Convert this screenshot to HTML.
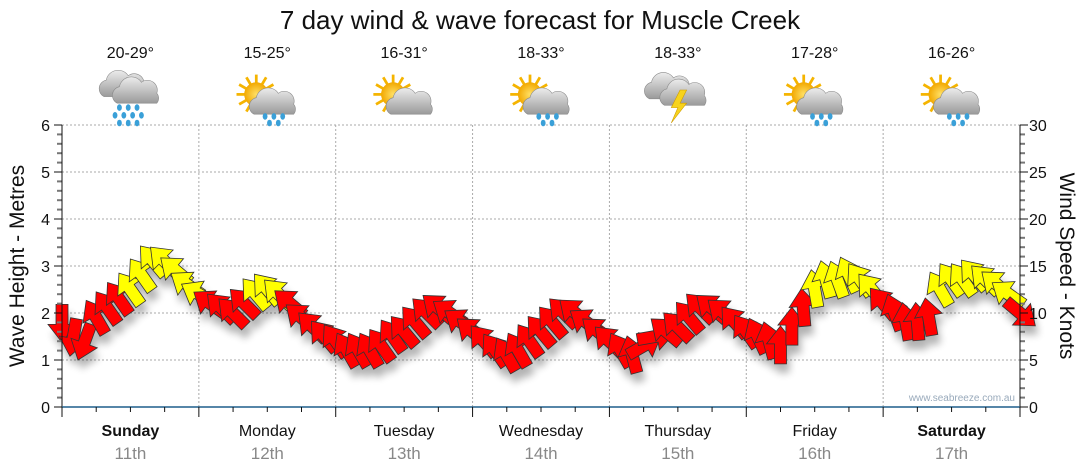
<!DOCTYPE html>
<html><head><meta charset="utf-8"><style>
body{margin:0;background:#fff;width:1080px;height:475px;overflow:hidden;font-family:"Liberation Sans","DejaVu Sans",sans-serif}
svg{display:block}
</style></head><body>
<svg id="chart" width="1080" height="475">
<defs>
<filter id="sh" x="-50%" y="-50%" width="200%" height="200%"><feGaussianBlur stdDeviation="4"/></filter>
<radialGradient id="sun" cx="50%" cy="50%" r="50%"><stop offset="0" stop-color="#ffe066"/><stop offset="1" stop-color="#f2a800"/></radialGradient>
<linearGradient id="cloud" x1="0" y1="0" x2="0" y2="1"><stop offset="0" stop-color="#ececec"/><stop offset="1" stop-color="#9a9a9a"/></linearGradient>
</defs>
<text x="540" y="29" text-anchor="middle" font-size="26" fill="#111">7 day wind &amp; wave forecast for Muscle Creek</text>
<g id="grid"></g>
<g id="icons"></g>
<g id="shadows" filter="url(#sh)" opacity="0.3"></g>
<g id="arrows"></g>
<g id="axes"></g>
<text x="24" y="266" transform="rotate(-90 24 266)" text-anchor="middle" font-size="21" fill="#111">Wave Height - Metres</text>
<text x="1060" y="266" transform="rotate(90 1060 266)" text-anchor="middle" font-size="21" fill="#111">Wind Speed - Knots</text>
<text x="1015" y="401" text-anchor="end" font-size="10" fill="#9ab">www.seabreeze.com.au</text>
</svg>
<script>
const days=["Sunday","Monday","Tuesday","Wednesday","Thursday","Friday","Saturday"];
const dates=["11th","12th","13th","14th","15th","16th","17th"];
const temps=["20-29°","15-25°","16-31°","18-33°","18-33°","17-28°","16-26°"];
const icons=["rain","sunrain","suncloud","sunrain","storm","sunrain","sunrain"];
const leftTicks=[0,1,2,3,4,5,6];
const rightTicks=[0,5,10,15,20,25,30];
const stepHours=2;
const windSpeed=[9,7.5,7,9.5,10.5,11.5,12.5,14,15.5,15.5,14.5,13,12,11,10.5,10,11,12,12.5,12,11,9.5,8.5,7.5,7,6,6,6,6.5,7.5,8,9,10,10.5,10,9,8,7,6,5.5,6,7,8,9,10,10,9,8,7,6,5.5,6.5,7.5,8,8.5,9.5,10.5,10.5,10,9,8,7.5,7,6.5,8.5,10.5,12.5,13.5,13.5,14,13.5,12.5,11,10,9,9,9.5,12.5,13.5,13.5,14,13.5,13,12,10];
const windDir=[180,190,200,-30,-35,-35,-35,-35,-40,-45,-50,-55,-60,-55,-45,-45,-45,-40,-40,-45,-50,-50,-45,-40,-35,-30,-30,-30,-35,-35,-40,-40,-45,-50,-55,-55,-50,-40,-35,-30,-30,-35,-40,-40,-45,-50,-55,-50,-45,-30,-15,60,80,-50,-45,-40,-45,-50,-50,-40,-35,-25,-15,0,0,-5,-10,-15,-20,-25,-35,-40,-40,-20,-10,-5,-10,-30,-35,-35,-40,-45,-50,-55,130];

const NS="http://www.w3.org/2000/svg";
const X0=62,X1=1020,Y0=407,Y1=125;
const dayW=(X1-X0)/7;
function xH(h){return X0+h*dayW/24;}
function yM(m){return Y0-(m/6)*(Y0-Y1);}
function yK(k){return Y0-(k/30)*(Y0-Y1);}
function mk(tag,attrs,parent){const e=document.createElementNS(NS,tag);for(const k in attrs)e.setAttribute(k,attrs[k]);parent.appendChild(e);return e;}
const grid=document.getElementById('grid'),axes=document.getElementById('axes'),ic=document.getElementById('icons');
const sh=document.getElementById('shadows'),ar=document.getElementById('arrows');

leftTicks.forEach(v=>{
  if(v>0){const g=mk('line',{x1:X0,x2:X1,y1:yM(v),y2:yM(v),stroke:'#aaa','stroke-dasharray':'2,2'},grid);
  
  }
  const t=mk('text',{x:50,y:yM(v)+6,'text-anchor':'end','font-size':16,fill:'#111'},axes);t.textContent=v;
  
  
});
rightTicks.forEach(v=>{
  const t=mk('text',{x:1029,y:yK(v)+6,'font-size':16,fill:'#111'},axes);t.textContent=v;
  
  
});
for(let i=0;i<=30;i++){
  const y=Y0-i*(Y0-Y1)/30;const major=i%5===0;
  mk('line',{x1:X0-(major?8:5),x2:X0,y1:y,y2:y,stroke:major?'#111':'#777','stroke-width':major?1:2},axes);
  mk('line',{x1:X1,x2:X1+(major?8:5),y1:y,y2:y,stroke:major?'#111':'#777','stroke-width':major?1:2},axes);
}
mk('line',{x1:X0,x2:X0,y1:Y1,y2:Y0,stroke:'#111'},axes);
mk('line',{x1:X1,x2:X1,y1:Y1,y2:Y0,stroke:'#111'},axes);
mk('line',{x1:X0,x2:X1,y1:Y0,y2:Y0,stroke:'#1f5f8b','stroke-width':1.5},axes);
for(let h=0;h<=168;h+=6){
  const x=xH(h);const major=h%24===0;
  mk('line',{x1:x,x2:x,y1:Y0,y2:Y0+(major?10:5),stroke:'#111'},axes);
  if(major&&h>0&&h<168){const g=mk('line',{x1:x,x2:x,y1:Y1,y2:Y0,stroke:'#aaa','stroke-dasharray':'2,2'},grid);
  
  }
}
days.forEach((d,i)=>{
  const cx=X0+dayW*(i+0.5);
  const t=mk('text',{x:cx,y:436,'text-anchor':'middle','font-size':16,fill:'#111','font-weight':(i===0||i===6)?'bold':'normal'},axes);t.textContent=d;
  
  
  const t2=mk('text',{x:cx,y:459,'text-anchor':'middle','font-size':17,fill:'#888'},axes);t2.textContent=dates[i];
  
  
  const t3=mk('text',{x:cx,y:58,'text-anchor':'middle','font-size':16,fill:'#111'},ic);t3.textContent=temps[i];
  
  
  const g=mk('g',{transform:`translate(${cx},101) scale(1.1)`},ic);
  
  
  drawIcon(g,icons[i]);
});
function cloud(g,dx,dy){
  mk('path',{d:`M${dx-18},${dy+8} a8,8 0 0 1 2,-15 a11,11 0 0 1 20,-4 a9,9 0 0 1 14,10 a7,7 0 0 1 0,9 z`,fill:'url(#cloud)',stroke:'#888','stroke-width':0.5},g);
}
function drops(g,pts){pts.forEach(p=>mk('ellipse',{cx:p[0],cy:p[1],rx:2.2,ry:3,fill:'#3aa0d8'},g));}
function sun(g,dx,dy){
  for(let a=0;a<360;a+=30){const r=a*Math.PI/180;mk('line',{x1:dx+Math.cos(r)*10,y1:dy+Math.sin(r)*10,x2:dx+Math.cos(r)*18,y2:dy+Math.sin(r)*18,stroke:'#f5b400','stroke-width':2.5},g);}
  mk('circle',{cx:dx,cy:dy,r:11,fill:'url(#sun)'},g);
}
function drawIcon(g,type){
  if(type==='rain'){cloud(g,-6,-12);cloud(g,6,-6);drops(g,[[-10,6],[-2,6],[6,6],[-14,13],[-6,13],[2,13],[10,13],[-10,20],[-2,20],[6,20]]);}
  else if(type==='storm'){cloud(g,-8,-10);cloud(g,6,-4);mk('path',{d:'M2,-10 L-6,6 L0,6 L-6,20 L8,2 L2,2 L8,-10 z',fill:'#f7d31c',stroke:'#c90','stroke-width':0.5},g);}
  else{sun(g,-10,-6);cloud(g,6,4);if(type==='sunrain')drops(g,[[-2,14],[6,14],[14,14],[2,20],[10,20]]);}
}
function arrowPath(){return "M0,-20 L14,-2 L6,-2 L6,18 L-6,18 L-6,-2 L-14,-2 Z";}
windSpeed.forEach((k,i)=>{
  const x=xH(i*stepHours),y=yK(k);
  const s=mk('path',{d:arrowPath(),fill:'#000',transform:`translate(${x+3},${y+9}) rotate(${windDir[i]})`},sh);
  
  
  const a=mk('path',{d:arrowPath(),fill:k>=12?'#ffff00':'#ff0000',stroke:'#333','stroke-width':0.8,transform:`translate(${x},${y}) rotate(${windDir[i]})`},ar);
  
  
});
</script>
</body></html>
